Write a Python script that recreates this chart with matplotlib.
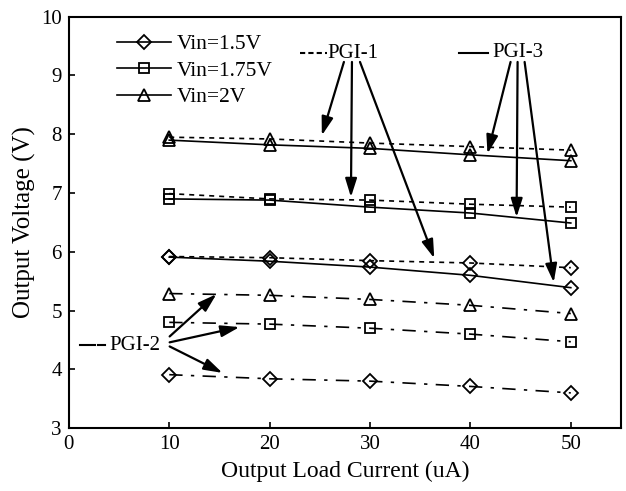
import matplotlib
matplotlib.use('Agg')
import matplotlib.pyplot as plt

plt.rcParams['font.family'] = ['Liberation Serif', 'DejaVu Serif']

# ~~~~~~~~ data ~~~~~~~~
current = [10, 20, 30, 40, 50]
vin_labels = ['Vin=1.5V', 'Vin=1.75V', 'Vin=2V']
markers = ['D', 's', '^']

# PGI-1 (dotted)
pgi1 = [[5.92, 5.90, 5.85, 5.81, 5.73],
        [6.99, 6.90, 6.88, 6.81, 6.76],
        [7.95, 7.92, 7.85, 7.79, 7.73]]
# PGI-2 (dash-dot)
pgi2 = [[3.91, 3.84, 3.80, 3.71, 3.60],
        [4.80, 4.77, 4.70, 4.60, 4.47],
        [5.29, 5.26, 5.19, 5.09, 4.95]]
# PGI-3 (solid)
pgi3 = [[5.91, 5.84, 5.74, 5.60, 5.39],
        [6.90, 6.88, 6.76, 6.66, 6.49],
        [7.90, 7.82, 7.76, 7.65, 7.55]]

ls_pgi1 = (0, (3, 3))
ls_pgi2 = (0, (8, 5, 2, 5))

fig = plt.figure(figsize=(6.26, 4.91), dpi=100)
ax = fig.add_axes([0.110, 0.128, 0.882, 0.838])

msize = {'D': 7, 's': 7, '^': 8}
for i in range(3):
    m = markers[i]
    ax.plot(current, pgi1[i], color='k', lw=1.2, ls=ls_pgi1, marker=m,
            ms=msize[m], mfc='none', mec='k', mew=1.3)
    ax.plot(current, pgi2[i], color='k', lw=1.2, ls=ls_pgi2, marker=m,
            ms=msize[m], mfc='none', mec='k', mew=1.3)
    ax.plot(current, pgi3[i], color='k', lw=1.2, ls='-', marker=m,
            ms=msize[m], mfc='none', mec='k', mew=1.3, label=vin_labels[i])

ax.set_xlim(0, 55)
ax.set_ylim(3, 10)
ax.set_xticks([0, 10, 20, 30, 40, 50])
ax.set_yticks(range(3, 11))
ax.tick_params(direction='in', length=4, width=1.2, labelsize=15,
               top=False, right=False, pad=5)
for s in ax.spines.values():
    s.set_linewidth(1.5)
ax.set_xlabel('Output Load Current (uA)', fontsize=17, labelpad=5)
ax.set_ylabel('Output Voltage (V)', fontsize=18, labelpad=4)

leg = ax.legend(loc='upper left', bbox_to_anchor=(0.087, 0.958), frameon=False,
                fontsize=15.5, handlelength=2.5, handletextpad=0.3,
                labelspacing=0.3, borderpad=0, borderaxespad=0)

# ~~~~~~~~ PGI labels and arrows ~~~~~~~~
fs = 15
# PGI-1
ax.plot([23.0, 25.7], [9.38, 9.38], color='k', lw=1.5, ls=(0, (2.5, 1.5)))
ax.text(25.8, 9.38, 'PGI-1', fontsize=fs, va='center', ha='left')
# PGI-3
ax.plot([38.9, 41.8], [9.39, 9.39], color='k', lw=1.5)
ax.text(42.2, 9.39, 'PGI-3', fontsize=fs, va='center', ha='left')
# PGI-2
ax.plot([1.1, 2.6], [4.41, 4.41], color='k', lw=1.5)
ax.plot([2.9, 3.6], [4.41, 4.41], color='k', lw=1.5)
ax.text(4.05, 4.41, 'PGI-2', fontsize=fs, va='center', ha='left')

arrows = [
    # (start, tip)
    ((27.4, 9.23), (25.2, 7.98)),
    ((28.2, 9.23), (28.1, 6.93)),
    ((29.0, 9.23), (36.4, 5.89)),
    ((44.0, 9.23), (41.7, 7.67)),
    ((44.7, 9.23), (44.6, 6.59)),
    ((45.4, 9.23), (48.3, 5.48)),
    ((10.04, 4.56), (14.7, 5.28)),
    ((10.04, 4.46), (17.0, 4.72)),
    ((10.04, 4.39), (15.3, 3.94)),
]
for start, tip in arrows:
    ax.annotate('', xy=tip, xytext=start,
                arrowprops=dict(arrowstyle='-|>,head_length=0.8,head_width=0.25',
                                color='k', lw=1.6, shrinkA=0, shrinkB=0,
                                mutation_scale=14))

plt.savefig('out.png', dpi=100)
